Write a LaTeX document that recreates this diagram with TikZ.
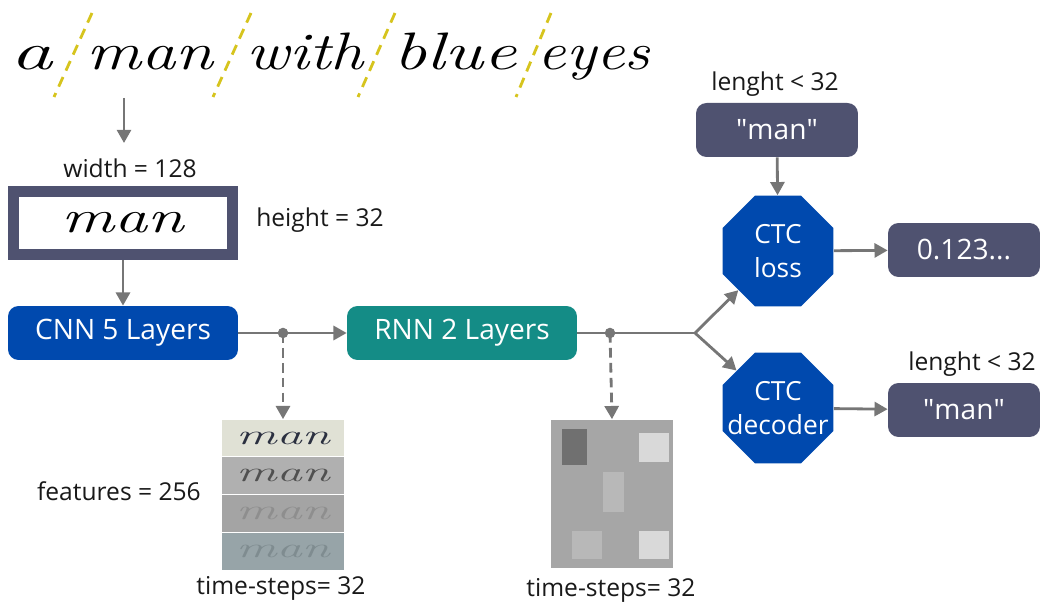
\documentclass[tikz,border=0pt]{standalone}
\usepackage{fontspec}
\setmainfont{Open Sans}
\newfontfamily\handfont{Latin Modern Roman}
\usetikzlibrary{shapes.geometric,arrows.meta,positioning}

\definecolor{slate}{RGB}{79,82,112}
\definecolor{cnnblue}{RGB}{0,73,174}
\definecolor{rnnteal}{RGB}{20,140,134}
\definecolor{linegray}{RGB}{118,118,118}
\definecolor{cutyellow}{RGB}{214,196,30}

\newcommand{\handw}[3]{\scalebox{#2}[1]{\fontsize{#1}{#1}\selectfont\handfont\itshape #3}}
\newcommand{\quoted}[1]{\textquotedbl#1\textquotedbl}
\newcommand{\thin}[1]{\makebox[0pt]{#1}}

\begin{document}
\begin{tikzpicture}[x=0.02cm,y=-0.02cm]
  \tikzset{
    plain/.style = {draw=linegray,line width=1.6pt},
    conn/.style = {plain,-{Triangle[length=7.5pt,width=8pt]}},
    tap/.style = {conn,dash pattern=on 5.5pt off 3pt},
    cut/.style = {draw=cutyellow,line width=1.6pt,dash pattern=on 6pt off 4pt},
    lbl/.style = {font=\fontsize{14}{16}\selectfont,text=black!90},
    block/.style = {rounded corners=6pt,minimum width=4.6cm,minimum height=1.08cm,
                    text=white,font=\fontsize{16}{18}\selectfont},
    outbox/.style = {block,fill=slate,minimum width=3.04cm},
    ctc/.style = {regular polygon,regular polygon sides=8,minimum size=2.4cm,inner sep=0pt,
                  fill=cnnblue,text=white,align=center,font=\fontsize{15}{19}\selectfont},
    band/.style = {minimum width=2.46cm,minimum height=0.74cm,inner sep=0pt},
    hand/.style = {anchor=base,inner sep=0pt}
  }
  \useasboundingbox (0,0) rectangle (1042,607);

  % sentence split into words
  \node[hand] (w1) at (32,70) {\handw{30}{1.6}{a}};
  \node[hand] (w2) at (150,70) {\handw{30}{1.3}{man}};
  \node[hand] (w3) at (305,70) {\handw{30}{1.25}{with}};
  \node[hand] (w4) at (455,70) {\handw{30}{1.4}{blue}};
  \node[hand] (w5) at (594,70) {\handw{30}{1.2}{eyes}};
  \draw[cut] (92,13) -- (54,97);
  \draw[cut] (251,13) -- (213,97);
  \draw[cut] (395,13) -- (358,97);
  \draw[cut] (551,13) -- (516,97);

  % word image
  \coordinate (src) at (124,98);
  \coordinate (dst) at (124,143);
  \draw[conn] (src) -- (dst);
  \node[lbl] (wdt) at (130,168) {width = 128};
  \node[draw=slate,line width=6.2pt,fill=white,minimum width=4.38cm,minimum height=1.26cm]
    (img) at (123,223) {\handw{26}{1.45}{man}};
  \node[lbl] (hgt) at (320,220) {height = 32};

  % networks
  \node[block,fill=cnnblue] (cnn) at (123,333) {CNN 5 Layers};
  \node[block,fill=rnnteal] (rnn) at (462,333) {RNN 2 Layers};
  \draw[conn] (img) -- (cnn);
  \draw[conn] (cnn) -- (rnn);
  \coordinate (t1) at (283,333);
  \fill[linegray] (t1) circle (3pt);

  % feature maps
  \node[band,fill={rgb,255:red,224;green,225;blue,213}] (f1) at (283,438)
    {\handw{16}{1.8}{\color[RGB]{43,48,64}man}};
  \node[band,fill={rgb,255:red,176;green,176;blue,176},below=0pt of f1] (f2)
    {\handw{16}{1.8}{\color[RGB]{80,80,80}man}};
  \node[band,fill={rgb,255:red,164;green,164;blue,164},below=0pt of f2] (f3)
    {\handw{16}{1.8}{\color[RGB]{142,142,142}man}};
  \node[band,fill={rgb,255:red,151;green,164;blue,168},below=0pt of f3] (f4)
    {\handw{16}{1.8}{\color[RGB]{127,140,144}man}};
  \draw[tap] (t1) -- (f1.north);
  \node[lbl,anchor=east] (feat) at (207,491) {features = 256};
  \node[lbl] (ts1) at (281,588) {time-steps= 32};

  % rnn output
  \coordinate (t2) at (610,333);
  \coordinate (br) at (695,333);
  \draw[plain] (rnn) -- (br);
  \fill[linegray] (t2) circle (3pt);
  \node[fill={rgb,255:red,166;green,166;blue,166},minimum width=2.46cm,minimum height=2.98cm,
    inner sep=0pt] (grid) at (612,494) {};
  \fill[fill={rgb,255:red,112;green,112;blue,112}] (562,429) rectangle (587,465);
  \fill[fill={rgb,255:red,217;green,217;blue,217}] (639,433) rectangle (669,462);
  \fill[fill={rgb,255:red,184;green,184;blue,184}] (603,472) rectangle (624,512);
  \fill[fill={rgb,255:red,184;green,184;blue,184}] (572,531) rectangle (602,559);
  \fill[fill={rgb,255:red,217;green,217;blue,217}] (639,531) rectangle (669,559);
  \draw[tap] (t2) -- (grid.north);
  \node[lbl] (ts2) at (611,590) {time-steps= 32};

  % ctc
  \node[ctc] (loss) at (778,251) {\thin{CTC}\\\thin{loss}};
  \node[ctc] (dec) at (778,408) {\thin{CTC}\\\thin{decoder}};
  \draw[conn] (br) -- (loss);
  \draw[conn] (br) -- (dec);
  \node[outbox,minimum width=3.24cm] (gt) at (777,130) {\quoted{man}};
  \node[lbl] (len1) at (775,84) {lenght < 32};
  \draw[conn] (gt) -- (loss);
  \node[outbox] (val) at (964,250) {0.123...};
  \draw[conn] (loss) -- (val);
  \node[outbox] (pred) at (964,410) {\quoted{man}};
  \node[lbl] (len2) at (972,364) {lenght < 32};
  \draw[conn] (dec) -- (pred);
\end{tikzpicture}
\end{document}
